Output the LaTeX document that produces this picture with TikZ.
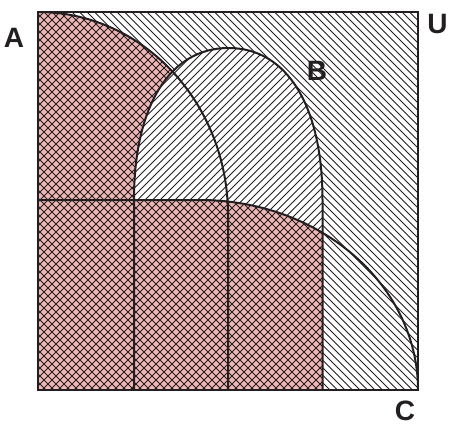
\documentclass[tikz,border=0pt]{standalone}
\usepackage{fontspec}
\setmainfont{Liberation Sans}
\definecolor{pinkc}{RGB}{240,182,182}
\definecolor{ink}{RGB}{35,31,32}
\tikzset{
  outline/.style={draw=ink, line width=2pt},
  frame/.style={draw=ink, line width=2.4pt},
  hatchline/.style={draw=ink, line width=0.8pt},
  lab/.style={inner sep=0pt, font=\fontsize{28}{30}\selectfont\bfseries, text=ink}
}
% "\" lines with horizontal spacing #1
\newcommand{\myNWlines}[1]{\foreach \i in {-70,...,70} {\draw[hatchline] ({\i*#1},0) -- ++(460,460);}}
% "/" lines with horizontal spacing #1
\newcommand{\myNElines}[1]{\foreach \i in {0,...,130} {\draw[hatchline] ({\i*#1},0) -- ++(-460,460);}}
\begin{document}
\begin{tikzpicture}[x=1pt,y=-1pt]
\useasboundingbox (0,0) rectangle (450,425);
% paths
\def\pathA{(38,12) arc[start angle=-90,end angle=0,x radius=190,y radius=203] -- (228,390) -- (38,390) -- cycle}
\def\pathB{(134,390) -- (134,200) .. controls (134,105.8) and (169.9,48) .. (228.5,48) .. controls (287.1,48) and (322.5,105.8) .. (322.5,200) -- (322.5,390) -- cycle}
\def\pathC{(38,390) -- (38,200) -- (200,200) arc[start angle=-90,end angle=0,x radius=218,y radius=190] -- cycle}
% universe: "\" hatching
\begin{scope}
  \clip (38,12) rectangle (418,390);
  \fill[white] (38,12) rectangle (418,390);
  \myNWlines{7.5}
\end{scope}
% A: pink crosshatch
\begin{scope}
  \clip \pathA;
  \fill[pinkc] (0,0) rectangle (450,425);
  \myNWlines{8}
  \myNElines{8}
\end{scope}
% B: "/" hatching
\begin{scope}
  \clip \pathB;
  \fill[white] (0,0) rectangle (450,425);
  \myNElines{7.5}
\end{scope}
% B and C: pink crosshatch
\begin{scope}
  \clip \pathB;
  \clip \pathC;
  \fill[pinkc] (0,0) rectangle (450,425);
  \myNWlines{8}
  \myNElines{8}
\end{scope}
% outlines
\draw[outline] (38,12) arc[start angle=-90,end angle=0,x radius=190,y radius=203] -- (228,390);
\draw[outline] (134,390) -- (134,200) .. controls (134,105.8) and (169.9,48) .. (228.5,48) .. controls (287.1,48) and (322.5,105.8) .. (322.5,200) -- (322.5,390);
\draw[outline] (38,200) -- (200,200) arc[start angle=-90,end angle=0,x radius=218,y radius=190];
\draw[frame] (38,12) rectangle (418,390);
% labels
\node[lab] (lA) at (14,37.5) {A};
\node[lab] (lU) at (437.5,24) {U};
\node[lab] (lB) at (317,70.5) {B};
\node[lab] (lC) at (405,411) {C};
\end{tikzpicture}
\end{document}
